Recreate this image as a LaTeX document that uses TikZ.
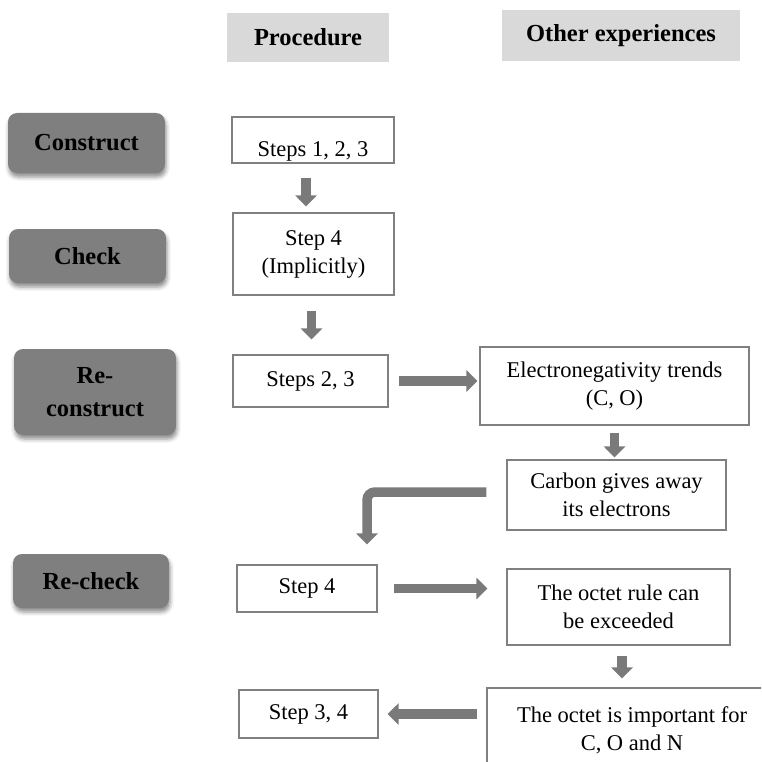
\documentclass[tikz,border=0pt]{standalone}
\usepackage{fontspec}
\setmainfont{Liberation Serif}
\usetikzlibrary{arrows.meta,shadows.blur}

\definecolor{hdrgray}{HTML}{D9D9D9}
\definecolor{stagegray}{HTML}{7F7F7F}
\definecolor{boxline}{HTML}{808080}
\definecolor{arrowgray}{HTML}{7A7A7A}

\newcommand{\regtext}{\fontsize{22.5}{28}\selectfont}
\newcommand{\boldtext}{\fontsize{24.5}{33}\selectfont\bfseries}

\tikzset{
  hdr/.style={fill=hdrgray, font=\boldtext, inner sep=0pt},
  stage/.style={rounded corners=9pt, fill=stagegray, font=\boldtext, align=center, inner sep=0pt,
    blur shadow={shadow xshift=1pt, shadow yshift=-4pt, shadow blur radius=4pt, shadow opacity=45}},
  pbox/.style={draw=boxline, line width=1.2pt, fill=white, font=\regtext, align=center, inner sep=0pt},
  blockarrow/.style={draw=arrowgray, line width=9.5pt, -{Triangle[width=21pt,length=11pt]}},
}

\begin{document}
\begin{tikzpicture}[x=1pt,y=-1pt]
\useasboundingbox (0,0) rectangle (761,762);
\clip (0,0) rectangle (761,762);

% column headers
\node[hdr, minimum width=162pt, minimum height=49pt] (hproc) at (308,37.5) {Procedure};
\node[hdr, minimum width=238pt, minimum height=51pt] (hother) at (621,35.5) {Other experiences};

% stages
\node[stage, minimum width=157pt, minimum height=60pt] (construct) at (86.5,143) {Construct};
\node[stage, minimum width=157pt, minimum height=54pt] (check) at (87.5,256) {Check};
\node[stage, minimum width=162pt, minimum height=86pt] (reconstruct) at (95,392) {Re-\\construct};
\node[stage, minimum width=156pt, minimum height=54pt] (recheck) at (91,581) {Re-check};

% procedure column
\node[pbox, minimum width=162pt, minimum height=46pt, text height=40pt, text depth=6pt] (s123) at (313,140) {Steps 1, 2, 3};
\node[pbox, minimum width=161pt, minimum height=82pt] (s4) at (313.5,254) {Step 4\\(Implicitly)};
\node[pbox, minimum width=155pt, minimum height=52pt] (s23) at (310.5,381) {Steps 2, 3};
\node[pbox, minimum width=140pt, minimum height=47pt] (st4) at (307,588.5) {Step 4};
\node[pbox, minimum width=139pt, minimum height=48pt] (s34) at (308.5,714) {Step 3, 4};

% other experiences column
\node[pbox, minimum width=269pt, minimum height=78pt] (en) at (614.5,386) {Electronegativity trends\\(C, O)};
\node[pbox, minimum width=219pt, minimum height=70pt] (cb) at (616.5,495) {Carbon gives away\\its electrons};
\node[pbox, minimum width=223pt, minimum height=76pt] (oc) at (618.5,607) {The octet rule can\\be exceeded};
\node[pbox, minimum width=290pt, minimum height=84pt] (imp) at (632,730) {The octet is important for\\C, O and N};

% connectors
\draw[blockarrow, shorten <=14pt, shorten >=6pt] ([xshift=-7pt]s123.south) -- ([xshift=-7.5pt]s4.north);
\draw[blockarrow, shorten <=15pt, shorten >=15pt] ([xshift=-2pt]s4.south) -- ([xshift=1pt]s23.north);
\draw[blockarrow, shorten <=10pt, shorten >=2pt] (s23.east) -- (s23.east -| en.west);
\draw[blockarrow, shorten <=7pt, shorten >=2pt] (en.south) -- (en.south |- cb.north);
\draw[blockarrow, rounded corners=8pt, shorten <=20pt, shorten >=20pt] ([yshift=3pt]cb.west) -| ([xshift=60pt]st4.north);
\draw[blockarrow, shorten <=16pt, shorten >=19pt] (st4.east) -- (st4.east -| oc.west);
\draw[blockarrow, shorten <=10pt, shorten >=9pt] ([xshift=3.5pt]oc.south) -- ([xshift=3.5pt]oc.south |- imp.north);
\draw[blockarrow, shorten <=9pt, shorten >=9pt] (s34.east -| imp.west) -- (s34.east);
\end{tikzpicture}
\end{document}
